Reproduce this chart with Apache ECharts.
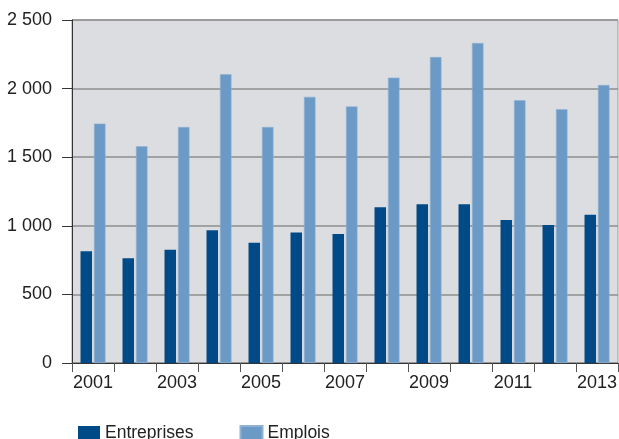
<!DOCTYPE html>
<html>
<head>
<meta charset="utf-8">
<script src="https://cdn.jsdelivr.net/npm/echarts@6/dist/echarts.min.js"></script>
<style>html,body{margin:0;padding:0;background:#fff}#c{width:619px;height:439px}</style>
</head>
<body>
<div id="c"></div>
<script>
var years = ['2001','2002','2003','2004','2005','2006','2007','2008','2009','2010','2011','2012','2013'];
var entreprises = [814, 763, 826, 967, 877, 952, 940, 1135, 1157, 1157, 1042, 1005, 1081];
var emplois = [1745, 1580, 1720, 2105, 1720, 1940, 1870, 2080, 2230, 2332, 1915, 1849, 2026];
var yTicks = [0, 500, 1000, 1500, 2000, 2500];

var FONT = "'Liberation Sans', Arial, sans-serif";
function fmt(v){ var s = String(v); return s.length > 3 ? s.slice(0, s.length-3) + ' ' + s.slice(-3) : s; }

var chart = echarts.init(document.getElementById('c'), null, {renderer:'canvas'});
chart.setOption({
  animation: false,
  textStyle: {fontFamily: FONT},
  grid: {left: 72, right: 1, top: 20, bottom: 76, outerBoundsMode: 'none', containLabel: false,
         show: true, backgroundColor: '#dcdde0', borderColor: '#9a9a9a', borderWidth: 1},
  legend: {
    left: 73, top: 419, itemWidth: 22, itemHeight: 14, itemGap: 46, icon: 'rect',
    textStyle: {fontSize: 17.5, color: '#222', fontFamily: FONT},
    data: ['Entreprises', 'Emplois']
  },
  xAxis: {
    type: 'category', data: years, boundaryGap: true,
    axisLine: {lineStyle: {color: '#333', width: 1}},
    axisTick: {show: true, interval: 0, length: 9, lineStyle: {color: '#555'}},
    axisLabel: {interval: 1, fontSize: 18, color: '#222', margin: 11, fontFamily: FONT}
  },
  yAxis: {
    type: 'value', min: yTicks[0], max: yTicks[yTicks.length-1], interval: 500,
    axisLine: {show: true, lineStyle: {color: '#333', width: 1}},
    axisTick: {show: true, length: 10, lineStyle: {color: '#333'}},
    axisLabel: {fontSize: 18, color: '#222', margin: 20, fontFamily: FONT, formatter: fmt},
    splitLine: {show: true, lineStyle: {color: '#8e8e8e', width: 1.5}}
  },
  series: [
    {name: 'Entreprises', type: 'bar', data: entreprises, barWidth: 11.5, barGap: '17%',
     itemStyle: {color: '#004a87'}},
    {name: 'Emplois', type: 'bar', data: emplois, barWidth: 11.5,
     itemStyle: {color: '#6b9ac6', borderColor: '#8fb1d3', borderWidth: 0.6}}
  ]
});
</script>
</body>
</html>
